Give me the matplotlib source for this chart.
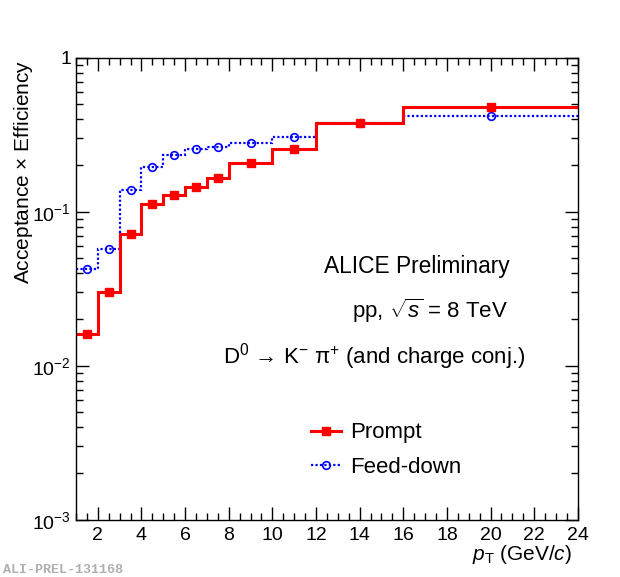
#!/usr/bin/env python3
# -*- coding: utf-8 -*-
"""D0 -> K pi acceptance x efficiency, prompt vs feed-down (ALICE pp 8 TeV)."""

import matplotlib as mpl
mpl.use("Agg")
import matplotlib.pyplot as plt
import numpy as np
from matplotlib.lines import Line2D
from matplotlib.ticker import FixedLocator, FixedFormatter, MultipleLocator

# pT bin edges (GeV/c)
pt_edges = [1, 2, 3, 4, 5, 6, 7, 8, 10, 12, 16, 24]
# acceptance x efficiency per bin
prompt = [0.016, 0.030, 0.0716, 0.112, 0.129, 0.145, 0.165, 0.206, 0.255, 0.378, 0.481]
feeddown = [0.0427, 0.0573, 0.138, 0.194, 0.232, 0.256, 0.264, 0.279, 0.306, 0.378, 0.420]

y_ticks = [1e-3, 1e-2, 1e-1, 1]
y_ticklabels = [r"$10^{-3}$", r"$10^{-2}$", r"$10^{-1}$", "1"]


def setup_font():
    mpl.rcParams.update(
        {
            "font.family": ["Liberation Sans", "DejaVu Sans"],
            "mathtext.fontset": "custom",
            "mathtext.rm": "Liberation Sans",
            "mathtext.it": "Liberation Sans:italic",
            "mathtext.sf": "Liberation Sans",
            "axes.unicode_minus": False,
            "figure.dpi": 100,
        }
    )


def main():
    setup_font()
    edges = np.array(pt_edges, dtype=float)
    centers = 0.5 * (edges[:-1] + edges[1:])

    fig = plt.figure(figsize=(6.2, 5.77), dpi=100)
    ax = fig.add_axes([0.1226, 0.0993, 0.8094, 0.8007])

    ax.stairs(feeddown, edges, baseline=None, color="#0000ff", lw=1.6,
              linestyle=(0, (1, 1)))
    ax.plot(centers, feeddown, "o", ms=5.5, mfc="none", mec="#0000ff", mew=1.2)

    ax.stairs(prompt, edges, baseline=None, color="#ff0000", lw=2.2)
    ax.plot(centers, prompt, "s", ms=5.5, color="#ff0000")

    ax.set_yscale("log")
    ax.set_xlim(1, 24)
    ax.set_ylim(1e-3, 1)

    ax.yaxis.set_major_locator(FixedLocator(y_ticks))
    ax.yaxis.set_major_formatter(FixedFormatter(y_ticklabels))
    ax.xaxis.set_major_locator(MultipleLocator(2))
    ax.xaxis.set_minor_locator(MultipleLocator(0.5))

    ax.tick_params(which="both", direction="in", top=True, right=True,
                   labelsize=14, width=1.0, color="black")
    ax.tick_params(which="major", length=9.5)
    ax.tick_params(which="minor", length=5)
    ax.tick_params(axis="x", which="major", pad=5.5)
    ax.tick_params(axis="y", which="major", pad=3.5)
    for s in ax.spines.values():
        s.set_linewidth(1.0)

    # axis titles (ROOT style, aligned to the end)
    fig.text(24 / 620, 1 - 60 / 577, r"Acceptance $\times$ Efficiency",
             rotation=90, ha="center", va="top", fontsize=15)
    fig.text(572 / 620, 1 - 555 / 577, r"$p_{\rm T}$ (GeV/$c$)",
             ha="right", va="center", fontsize=15)

    # annotations
    fig.text(510 / 620, 1 - 266 / 577, "ALICE Preliminary",
             ha="right", va="center", fontsize=16.4)
    fig.text(508 / 620, 1 - 311 / 577, r"pp, $\sqrt{s}$ = 8 TeV",
             ha="right", va="center", fontsize=16)
    fig.text(525 / 620, 1 - 357 / 577,
             "D$^{0}$ \u2192 K$^{-}$ \u03c0$^{+}$ (and charge conj.)",
             ha="right", va="center", fontsize=16)

    handles = [
        Line2D([], [], color="#ff0000", lw=2.2, marker="s", ms=5.5),
        Line2D([], [], color="#0000ff", lw=1.6, linestyle=(0, (1, 1)),
               marker="o", ms=5.5, mfc="none", mew=1.2),
    ]
    ax.legend(handles, ["Prompt", "Feed-down"], loc="center left",
              bbox_to_anchor=(311 / 620, 1 - 450 / 577),
              bbox_transform=fig.transFigure, frameon=False, fontsize=16,
              handlelength=1.35, handletextpad=0.4, labelspacing=0.6,
              borderaxespad=0, borderpad=0)

    fig.text(3 / 620, 1 - 570 / 577, "ALI-PREL-131168", ha="left",
             va="center", fontsize=9.6, color="#b0b0b0",
             family=["Liberation Mono", "DejaVu Sans Mono"], weight="bold")

    fig.savefig("out.png", dpi=100)
    plt.close(fig)


if __name__ == "__main__":
    main()
